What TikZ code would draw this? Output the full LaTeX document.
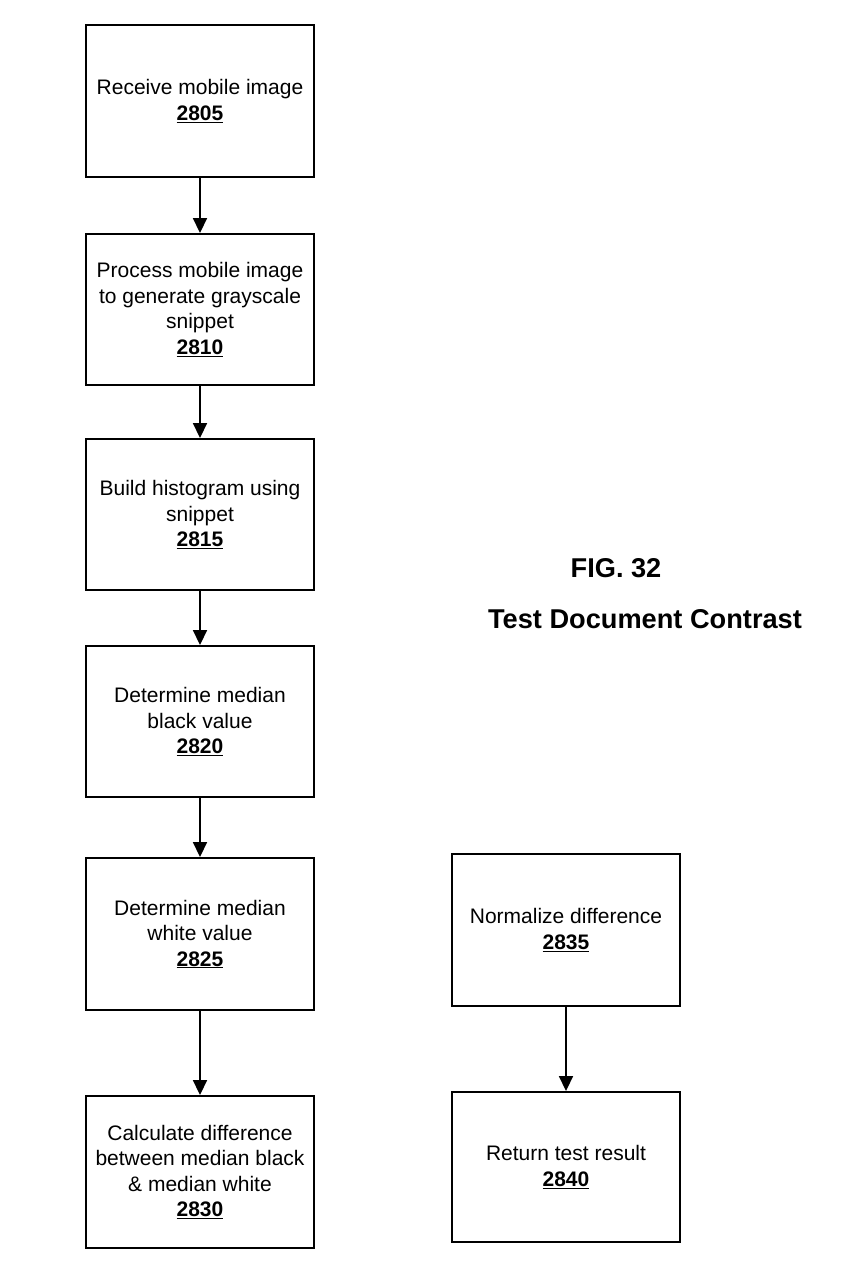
\documentclass[tikz,border=0pt]{standalone}
\usepackage{fontspec}
\setmainfont{Liberation Sans}
\usetikzlibrary{arrows.meta}
\newcommand\stepnum[1]{\underline{\textbf{#1}}}
\begin{document}
\begin{tikzpicture}[x=1pt,y=-1pt,
  stepbox/.style={draw, line width=1.9pt, minimum width=228pt, minimum height=152pt,
    inner sep=0pt, align=center, font=\fontsize{21}{25.5}\selectfont},
  arr/.style={-{Triangle[length=15pt,width=14pt]}, line width=1.7pt},
  title/.style={font=\bfseries\fontsize{27.2}{32}\selectfont, anchor=base}]
\useasboundingbox (0,0) rectangle (852,1269);

\node[stepbox] (b1) at (200,101) {Receive mobile image\\\stepnum{2805}};
\node[stepbox, minimum height=151pt] (b2) at (200,309.5) {Process mobile image\\to generate grayscale\\snippet\\\stepnum{2810}};
\node[stepbox, minimum height=151pt] (b3) at (200,514.5) {Build histogram using\\snippet\\\stepnum{2815}};
\node[stepbox, minimum height=151pt] (b4) at (200,721.5) {Determine median\\black value\\\stepnum{2820}};
\node[stepbox] (b5) at (200,934) {Determine median\\white value\\\stepnum{2825}};
\node[stepbox] (b6) at (200,1172) {Calculate difference\\between median black\\\& median white\\\stepnum{2830}};

\node[stepbox] (r1) at (566,930) {Normalize difference\\\stepnum{2835}};
\node[stepbox, minimum height=150pt] (r2) at (566,1167) {Return test result\\\stepnum{2840}};

\node[title] (fig) at (616,577) {FIG. 32};
\node[title] (ttl) at (645,628) {Test Document Contrast};

\draw[arr] (b1) -- (b2);
\draw[arr] (b2) -- (b3);
\draw[arr] (b3) -- (b4);
\draw[arr] (b4) -- (b5);
\draw[arr] (b5) -- (b6);
\draw[arr] (r1) -- (r2);
\end{tikzpicture}
\end{document}
